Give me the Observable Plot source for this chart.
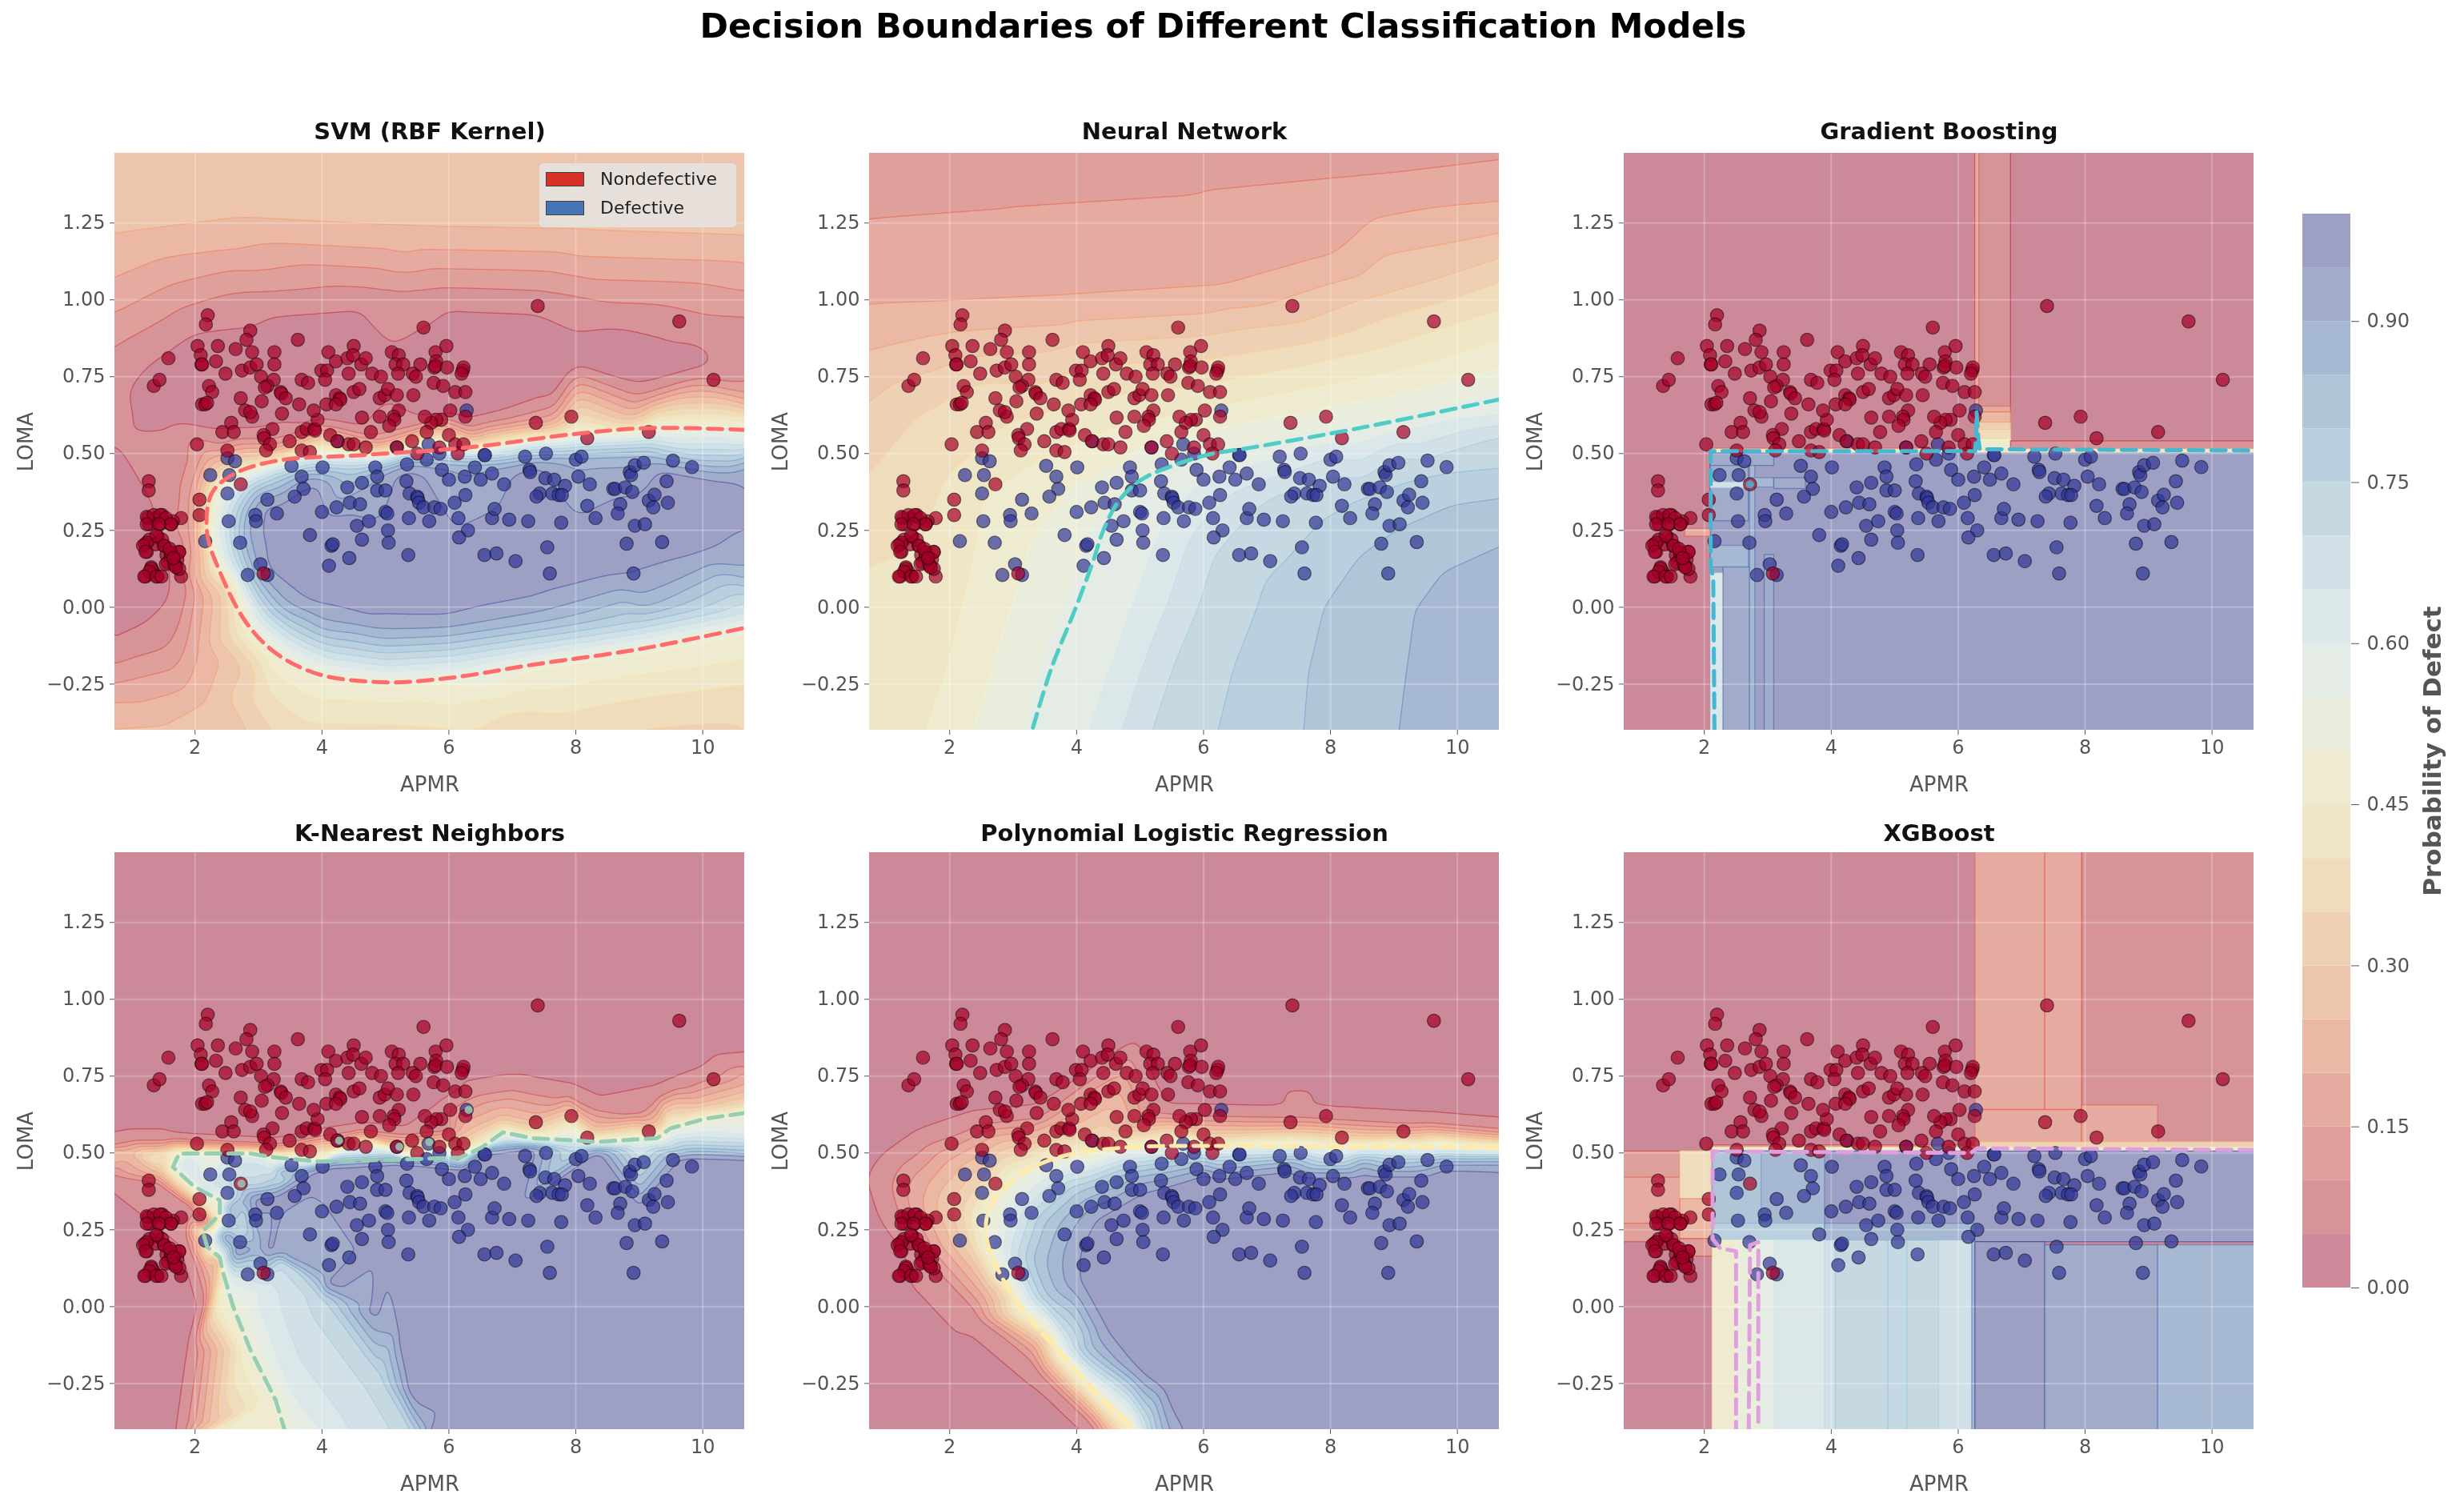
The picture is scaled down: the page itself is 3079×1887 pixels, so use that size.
<!DOCTYPE html>
<html><head><meta charset="utf-8">
<script src="https://cdn.jsdelivr.net/npm/d3@7"></script>
<script src="https://cdn.jsdelivr.net/npm/@observablehq/plot@0.6"></script>
<style>
html,body{margin:0;background:#fff}
#page{position:relative;width:3079px;height:1887px;overflow:hidden;font-family:"DejaVu Sans",sans-serif;color:#555;filter:blur(.6px)}
#page svg{position:absolute;overflow:visible;background:transparent}
#title{position:absolute;left:0;width:3057px;top:8px;text-align:center;font-weight:bold;font-size:42.8px;color:#000;line-height:48px}
#legend{position:absolute;left:674px;top:204px;width:246px;height:80px;background:rgba(229,229,229,.8);border-radius:5px;font-size:22px;color:#222;z-index:3}
#legend i{position:absolute;left:8px;width:48px;height:18px;border:1px solid #444;box-sizing:border-box}
#legend span{position:absolute;left:76px;line-height:26px}
</style></head><body>
<div id="page"><div id="title">Decision Boundaries of Different Classification Models</div>
<div id="legend"><i style="top:11px;background:#d73027"></i><span style="top:7px">Nondefective</span><i style="top:47px;background:#4575b4"></i><span style="top:43px">Defective</span></div></div>
<script>
// ---- scatter (APMR, LOMA) ----
const nondefective=[[7.40,.98],[9.63,.93],[5.60,.91],[10.17,.74],[2.20,.95],[2.17,.92],[2.87,.90],[2.81,.87],[3.62,.87],[1.58,.81],[2.04,.85],[2.36,.85],[2.09,.82],[2.10,.79],[2.11,.79],[2.33,.80],[2.64,.84],[2.90,.83],[3.25,.83],[3.25,.79],[2.48,.76],[2.74,.77],[2.87,.78],[2.97,.79],[3.04,.75],[3.24,.74],[3.14,.72],[3.10,.715],[1.35,.72],[1.44,.74],[2.22,.72],[2.27,.70],[2.11,.66],[2.16,.66],[2.19,.665],[2.72,.68],[2.79,.64],[2.90,.62],[2.87,.635],[3.05,.67],[3.35,.70],[3.36,.695],[3.43,.68],[3.37,.63],[2.57,.60],[2.43,.57],[2.61,.57],[2.03,.53],[2.51,.51],[3.22,.58],[3.08,.56],[3.09,.55],[3.18,.53],[3.12,.51],[3.49,.54],[3.68,.57],[3.76,.58],[3.88,.58],[3.89,.575],[3.93,.61],[3.87,.64],[3.64,.66],[4.07,.66],[3.68,.74],[3.78,.73],[3.99,.77],[4.08,.77],[4.05,.74],[4.10,.83],[4.22,.80],[4.40,.81],[4.50,.85],[4.49,.82],[4.62,.79],[4.69,.81],[4.42,.76],[4.79,.76],[4.93,.75],[4.50,.70],[4.59,.71],[4.22,.69],[4.28,.68],[4.29,.675],[4.22,.66],[4.91,.68],[4.99,.69],[5.04,.71],[5.18,.69],[5.44,.69],[5.10,.83],[5.21,.82],[5.16,.79],[5.28,.79],[5.20,.76],[5.55,.79],[5.43,.76],[5.48,.75],[5.79,.83],[5.96,.85],[5.80,.80],[5.77,.78],[5.79,.785],[5.97,.78],[5.76,.73],[5.91,.72],[6.10,.70],[6.26,.70],[6.22,.77],[6.23,.78],[6.20,.76],[6.02,.64],[5.88,.61],[5.80,.61],[5.72,.60],[5.62,.62],[6.26,.62],[5.21,.64],[5.13,.62],[5.14,.61],[5.06,.59],[4.91,.62],[4.63,.617],[4.77,.57],[4.13,.56],[4.24,.54],[4.42,.53],[4.50,.53],[4.69,.52],[3.68,.51],[3.81,.505],[5.18,.52],[5.42,.54],[5.50,.50],[5.65,.57],[6.00,.56],[6.10,.53],[6.23,.53],[6.14,.50],[5.85,.52],[7.37,.60],[7.93,.62],[8.18,.55],[9.15,.57],[1.27,.41],[1.27,.38],[2.72,.40],[2.07,.35],[2.07,.30],[3.08,.11],[1.26,.29],[1.38,.29],[1.48,.30],[1.78,.29],[1.65,.28],[1.45,.27],[1.28,.27],[1.62,.27],[1.41,.23],[1.28,.22],[1.21,.205],[1.24,.18],[1.38,.205],[1.51,.20],[1.62,.18],[1.75,.18],[1.55,.17],[1.72,.155],[1.57,.145],[1.68,.135],[1.31,.13],[1.35,.115],[1.22,.10],[1.41,.10],[1.78,.10],[1.75,.125],[1.62,.165],[1.48,.22],[1.24,.294],[1.35,.30],[1.45,.30],[1.54,.29],[1.62,.27],[1.24,.27],[1.43,.27],[1.39,.233],[1.24,.21],[1.18,.20],[1.22,.18],[1.52,.20],[1.62,.177],[1.75,.18],[1.54,.14],[1.68,.14],[1.70,.13],[1.31,.125],[1.28,.116],[1.20,.10],[1.39,.10],[1.47,.10],[1.60,.19],[1.66,.16]];
const defective=[[6.28,.64],[2.51,.485],[2.63,.475],[2.24,.43],[2.54,.43],[2.51,.37],[2.53,.28],[2.16,.215],[2.71,.21],[2.83,.105],[3.03,.14],[3.14,.105],[2.95,.30],[2.96,.28],[3.14,.35],[3.29,.305],[3.52,.46],[3.68,.425],[3.71,.385],[3.57,.36],[4.01,.455],[4.00,.31],[3.81,.235],[4.15,.20],[4.17,.205],[4.11,.135],[4.43,.16],[4.23,.325],[4.40,.39],[4.44,.34],[4.60,.335],[4.63,.405],[4.55,.265],[4.74,.28],[4.63,.22],[4.84,.455],[4.87,.425],[4.87,.38],[5.0,.38],[5.0,.31],[5.03,.305],[5.04,.25],[5.05,.21],[5.34,.465],[5.33,.41],[5.38,.37],[5.50,.36],[5.51,.355],[5.53,.34],[5.60,.325],[5.77,.325],[5.87,.32],[5.37,.29],[5.69,.28],[5.36,.17],[5.18,.52],[4.25,.54],[5.68,.53],[5.65,.48],[5.85,.50],[5.89,.447],[6.0,.415],[6.25,.425],[6.41,.455],[6.50,.415],[6.68,.435],[6.56,.495],[6.57,.495],[6.26,.365],[6.09,.34],[6.15,.29],[6.30,.25],[6.16,.227],[6.56,.17],[6.75,.175],[6.68,.29],[6.72,.32],[6.95,.285],[6.87,.40],[7.05,.15],[7.20,.49],[7.27,.447],[7.28,.44],[7.53,.50],[7.52,.42],[7.66,.415],[7.83,.395],[7.43,.37],[7.38,.36],[7.63,.37],[7.73,.365],[7.78,.365],[7.25,.28],[7.77,.275],[7.55,.195],[7.59,.11],[8.0,.48],[8.09,.49],[8.04,.425],[8.22,.40],[8.18,.33],[8.31,.29],[8.59,.385],[8.62,.385],[8.78,.39],[8.89,.375],[8.70,.335],[8.66,.305],[8.85,.44],[8.87,.43],[8.93,.462],[9.07,.47],[8.80,.207],[8.91,.11],[8.93,.265],[9.09,.27],[9.15,.347],[9.24,.366],[9.22,.325],[9.43,.41],[9.45,.34],[9.53,.477],[9.83,.456],[9.36,.212]];
// ---- probability isolines: [p, x,y, x,y, ...] ----
const svmField=[
[.28,0,1.8,3,1.8,6,1.8,9,1.8,12,1.8,2.5,1.55,7,1.5,10,1.5],
[.02,2.5,.75,5,.75,8,.8,1.5,.65,3.5,.65,6,.68,.5,.25,1,.15,1.1,.3],
[.03,9.9,.82,9,.83,8,.85,7,.88,6,.9,4.5,.9,3,.87,2,.8,1.2,.7,1.5,.62,4,.6,6,.62,7.5,.7,9,.76],
[.05,.97,.646,1.24,.80,1.92,.90,3.27,.96,4.62,.98,5.97,.98,7.32,.97,8.68,.92,9.69,.87,10.2,.82,9.96,.76,9.01,.716,7.66,.66,6.31,.59,4.62,.558,2.6,.555,1.04,.558,.96,.596],
[.05,.5,.54,.85,.53,1.38,.293,1.72,.116,1.68,.015,1.24,-.073,.74,-.124,.5,-.14],
[.08,10.9,.84,.5,.7],
[.10,.5,.84,.74,.855,1.58,.95,2.6,1.03,5.3,1.04,8,1.02,10.9,.95,10.9,.72,9,.68,7.66,.634,6.31,.564,4.96,.539,3.27,.526,2.46,.514,2.0,.46,1.85,.36,1.92,.2,1.95,.05,1.58,-.135,.74,-.187,.5,-.19],
[.15,.5,.95,.74,.962,1.58,1.05,2.6,1.10,5.3,1.09,8,1.08,10.9,1.03,10.9,.69,9,.65,7.66,.615,6.31,.555,4.96,.53,3.27,.518,2.39,.5,2.02,.43,1.95,.24,2.02,.05,1.85,-.14,.74,-.25,.5,-.26],
[.20,.5,1.06,.74,1.076,1.5,1.14,2.6,1.165,5.3,1.15,8,1.145,10.9,1.12,10.9,.665,9,.63,7.66,.6,6.31,.548,4.96,.523,3.27,.512,2.3,.49,2.08,.42,2.03,.24,2.15,.05,2.05,-.15,1.85,-.27,.74,-.31,.5,-.32],
[.25,.5,1.2,.74,1.21,2.6,1.26,5.3,1.23,8,1.22,10.9,1.2,10.9,.645,9,.615,7.66,.585,6.31,.54,4.96,.516,3.27,.505,2.25,.47,2.13,.40,2.1,.24,2.3,.05,2.45,-.15,2.2,-.3,1.5,-.38,.74,-.39,.5,-.4],
[.30,10.9,.625,9,.60,7.66,.575,6.31,.53,4.96,.51,3.27,.495,2.2,.44,2.14,.36,2.13,.24,2.45,.05,2.8,-.2,3.0,-.45,.5,-.7,3,-.7],
[.35,3.4,-.45,8,-.42,9,-.39,10.9,-.34,2.5,.1],
[.37,5,-.45,6.5,-.45],
[.40,10.9,.60,9,.59,7.66,.565,6.31,.525,4.96,.505,3.27,.485,2.45,.43,2.18,.36,2.15,.24,2.3,.1,2.7,-.1,3.2,-.28,3.8,-.37,5,-.37,7,-.33,9,-.29,10.9,-.24],
[.50,10.9,.577,9.15,.583,8.0,.564,6.31,.52,4.62,.495,3.27,.476,2.6,.432,2.26,.369,2.19,.242,2.39,.116,2.8,-.048,3.27,-.149,3.95,-.218,4.96,-.244,5.97,-.231,7.32,-.187,9.01,-.136,10.9,-.06],
[.62,10.9,.55,9.15,.555,8,.535,6.31,.50,4.62,.478,3.27,.455,2.75,.41,2.5,.34,2.42,.24,2.58,.12,3,-.03,3.5,-.12,4.1,-.18,5,-.205,6,-.19,7.32,-.15,9,-.10,10.9,-.03],
[.75,10.9,.525,9.15,.525,8,.51,6.31,.485,4.62,.46,3.4,.44,2.9,.39,2.68,.32,2.62,.24,2.78,.12,3.15,-.01,3.7,-.09,4.3,-.13,5,-.15,6,-.14,7.32,-.10,9,-.05,10.9,.03],
[.88,10.9,.50,9.15,.495,8,.49,6.31,.475,4.8,.445,3.6,.425,3.05,.37,2.8,.30,2.78,.22,2.95,.11,3.4,0,4,-.06,5,-.09,6,-.08,7.32,-.04,9,.01,10.9,.1],
[.95,2.9,.242,3.03,.343,3.81,.419,5.3,.463,7.32,.472,9.35,.457,10.36,.419,10.9,.356,10.9,.274,10.03,.179,8.68,.104,7.32,.034,5.97,-.029,4.76,-.035,3.81,.015,3.14,.116],
[.97,3.2,.24,3.3,.32,3.9,.39,5.3,.44,7.3,.45,9.3,.43,10.3,.39,10.4,.29,9.8,.21,8.6,.14,7.3,.07,6,.01,4.8,0,3.9,.04,3.3,.13],
[.98,5,.2,7,.25,9,.3,4,.25,6,.15,8,.2,10.3,.32,10.9,.315]];
const nnField=[
[.07,0,1.8,3,1.8],[.11,6,1.8,12,1.8],[.10,.4,1.47,1.5,1.52],
[.15,.4,1.25,.74,1.255,3,1.29,6,1.33,8.5,1.38,10.9,1.44],
[.20,.4,.965,.74,.97,2,.98,4,1.0,6.3,1.03,8,1.13,10.9,1.32],
[.25,.4,.82,.74,.83,2,.89,4,.93,6.3,.97,8,1.05,10.9,1.22],
[.30,.4,.63,.74,.66,1.9,.776,3.6,.83,6,.88,7.5,.92,9,1.02,10.9,1.15],
[.35,.4,.38,.74,.43,1.5,.62,2.5,.73,4,.78,6,.80,7.5,.85,9,.95,10.9,1.07],
[.40,10.9,.98,9,.85,7.5,.78,6,.72,4,.66,3,.6,2,.42,1.6,.2,1.4,0,1.1,-.2,.74,-.42,.4,.1],
[.45,10.9,.88,9,.76,7.5,.70,6,.64,4.5,.57,3.4,.47,2.58,.36,2.24,0,2,-.2,1.6,-.45],
[.50,10.9,.78,9,.68,7.5,.62,6,.56,4.8,.47,3.9,.38,3.3,.2,3.0,0,2.7,-.2,2.3,-.45],
[.56,10.9,.69,9.23,.615,8.18,.572,6.77,.52,6.11,.498,5.55,.463,5.02,.415,4.68,.35,4.43,.255,4.26,.15,3.99,0,3.6,-.2,3.3,-.45],
[.60,10.9,.62,8.5,.53,7,.47,6.0,.40,5.5,.3,5.2,.15,4.95,0,4.6,-.2,4.2,-.45],
[.70,10.9,.57,9,.49,8,.43,7,.355,6.5,.25,6.16,.165,5.91,0,5.5,-.2,5.1,-.45],
[.75,10.9,.45,9.5,.425,8.5,.355,7.93,.287,7.4,.165,7.0,.08,6.88,0,6.5,-.2,6.2,-.45],
[.80,10.9,.36,9.95,.333,9.1,.255,8.5,.168,7.93,0,7.7,-.2,7.6,-.45],
[.85,10.9,.22,9.78,.116,9.38,0,9.25,-.2,9.1,-.45],
[.88,12,-.7,10.9,-.5]];
const polyField=[
[.02,-1,1.8,5,1.8,12,1.8,-1,.4,-1,-.8,2,-.8,3.5,-.8,12,1.0,5,.9,2,.9],
[.05,10.9,.575,9.45,.60,7.42,.624,5.39,.633,3.36,.63,2.35,.609,1.47,.548,.99,.479,.84,.416,1.03,.29,1.53,.14,2.35,-.039,3.36,-.216,4.24,-.39,4.4,-.6],
[.20,10.9,.553,9,.57,7.42,.586,5.39,.605,3.7,.599,2.68,.555,2.0,.479,1.67,.403,1.57,.327,1.87,.2,2.55,.037,3.36,-.127,4.44,-.40,4.6,-.6],
[.35,10.9,.53,8.5,.54,6.07,.548,4.38,.548,3.36,.51,2.55,.416,2.21,.315,2.35,.2,2.89,.037,3.56,-.114,4.65,-.40,4.8,-.6],
[.50,10.9,.517,9.5,.517,8.1,.52,6.07,.523,4.71,.517,3.7,.485,3.02,.416,2.62,.315,2.58,.226,2.75,.125,3.16,-.014,3.7,-.14,4.31,-.28,4.92,-.40,5.05,-.6],
[.65,10.9,.505,9,.505,7.42,.505,6.07,.498,4.71,.478,3.7,.415,3.16,.315,2.95,.175,3.19,.06,3.83,-.116,5.05,-.4,5.2,-.6],
[.80,10.9,.485,9.7,.485,8.5,.485,7.42,.485,6.07,.479,4.85,.441,4.04,.378,3.5,.277,3.29,.15,3.5,.037,4.1,-.14,5.25,-.40,5.4,-.6],
[.95,10.9,.454,9.7,.452,8.5,.45,7.42,.447,6.07,.441,5.05,.378,4.31,.289,4.04,.176,4.04,.075,4.44,-.076,4.98,-.215,5.59,-.40,5.7,-.6],
[.98,12,-.8,12,.42,9.7,.42,8.5,.42,7.4,.42,6.2,.41,5.3,.33,4.6,.25,4.4,.1,4.9,-.1,5.4,-.25,6,-.8,8,-.8,8,.1,10,.1]];
const knnField=[
[.02,0,1.8,5,1.8,12,1.8,5,1.1,1,1,9,1.1,1,.1,1,-.3,1.3,-.1,0,.2,0,-.8,1.2,-.8,3,.7,5,.8],
[.05,10.9,.81,10.3,.80,10.03,.757,9.62,.725,9.28,.694,8.95,.637,8.34,.656,7.87,.70,7.32,.719,7.05,.731,6.65,.719,6.31,.706,5.9,.655,5.94,.58,5.3,.567,4.62,.58,4.01,.56,3.27,.53,2.6,.536,1.58,.548,.97,.548,.5,.53],
[.05,.5,.42,1.45,.39,1.92,.327,2.16,.277,1.85,.258,1.58,.245,1.85,.2,2.32,.144,2.36,.119,2.12,0,1.95,-.14,1.78,-.39,1.74,-.6],
[.25,10.9,.71,10,.66,9.3,.60,8.3,.58,7.3,.60,6.85,.62,6.3,.57,5.9,.54,5.3,.53,4,.53,3.3,.51,2.5,.52,1.6,.52,1,.5,.5,.505],
[.25,.5,.46,1.4,.44,1.9,.35,2.2,.29,1.95,.25,2.15,.2,2.38,.14,2.3,.1,2.22,-.39,2.2,-.6],
[.43,10.9,.65,10,.625,9.4,.575,9.2,.55,8.3,.545,7.3,.56,6.85,.58,6.5,.53,6.2,.50,5.3,.495,4,.49,3.3,.50,2.5,.505,1.6,.505,1.3,.48,1.7,.42,2.1,.34,2.3,.30,2.08,.25,2.2,.18,2.35,.13,2.32,0,2.27,-.4,2.25,-.6],
[.50,10.9,.63,10.03,.611,9.49,.58,9.28,.548,8.34,.536,7.32,.548,6.85,.567,6.51,.517,6.18,.485,5.3,.479,3.95,.472,3.27,.485,2.87,.498,2.46,.498,1.75,.498,1.65,.454,1.99,.39,2.39,.346,2.39,.3,2.12,.245,2.19,.195,2.39,.16,2.43,.119,2.6,0,2.87,-.14,3.27,-.304,3.41,-.40,3.5,-.6],
[.62,10.9,.55,10,.56,9.4,.53,9,.525,8.3,.525,7.3,.535,6.85,.545,6.5,.51,6.2,.47,5.3,.485,4,.465,3.4,.47,2.9,.49,2.5,.49,1.85,.49,1.8,.45,2.1,.385,2.5,.35,2.5,.28,2.3,.22,2.45,.15,2.6,.09,3.07,.06,3.13,-.025,3.54,-.25,4.08,-.40,4.2,-.6],
[.72,10.9,.53,10,.53,8,.515,7.3,.53,6.5,.505,6.2,.465,5.3,.48,4,.462,3.4,.45,3.4,.42,3.2,.42,2.95,.40,2.6,.40,2.7,.3,2.6,.25,3.4,.15,3.95,.025,4.9,-.24,5.35,-.40,5.45,-.6],
[.90,10.9,.48,9.7,.487,8.3,.505,7.3,.52,6.5,.50,6.18,.455,5.3,.47,4,.455,3.38,.44,3.3,.37,2.9,.36,2.58,.315,2.45,.23,2.62,.2,3.05,.19,3.4,.165,4.05,.09,4.7,0,5.15,-.09,5.3,-.27,5.65,-.4,5.75,-.6],
[.97,10.9,.475,9.69,.482,8.34,.50,7.32,.515,6.51,.495,6.18,.45,5.3,.465,4.01,.45,3.41,.43,3.34,.365,2.93,.35,2.66,.30,2.53,.23,2.65,.18,3.14,.18,3.41,.155,4.08,.08,4.76,-.01,5.23,-.1,5.37,-.27,5.72,-.4,5.8,-.6],
[.99,8,.1,6,-.3,10,-.3,5,.25,12,-.8,7,-.8,12,.2,7,.3,9,.3]];
// ---- tree model leaves: [x1,x2,y1,y2,p] ----
const gbLeaves=[[0,11,-1,2,.02],[2.1,11,-1,.508,.97],[6.27,6.83,.64,2,.09],[6.27,6.33,.6,2,.16],[6.33,6.83,.634,.653,.15],[6.33,6.83,.6,.634,.2],[6.33,6.83,.577,.6,.3],[6.33,6.83,.545,.577,.36],[6.33,6.83,.514,.545,.47],[6.83,11,.508,.54,.07],[2.1,6.27,.508,.516,.16],[2.1,11,.503,.513,.45],[1.7,2.1,.23,.255,.15],[2.1,2.3,-1,.11,.62],[2.3,2.72,-1,.13,.9],[2.72,2.8,-1,.5,.85],[2.95,3.1,-1,.17,.9],[2.1,2.7,.13,.2,.88],[2.1,2.7,.28,.5,.9],[2.1,2.7,.388,.406,.68],[2.7,3.1,.39,.42,.85],[3.1,3.6,.385,.42,.92],[2.1,3.1,.46,.5,.9]];
const xgbLeaves=[[0,11,-1,2,.02],[7.95,11,.53,2,.08],[6.27,7.37,.64,2,.18],[7.37,7.95,.64,2,.15],[6.27,7.95,.53,.64,.18],[7.95,9.15,.53,.655,.15],[2.13,6.27,.51,.525,.12],[6.27,11,.515,.535,.3],[2.13,11,.503,.517,.45],[0,1.62,.21,.505,.12],[0,1.62,.27,.42,.15],[1.62,2.13,.35,.505,.35],[1.62,2.13,.22,.35,.2],[1.62,2.13,.163,.22,.1],[2.13,11,.21,.505,.97],[2.13,3.9,.21,.505,.87],[2.13,2.9,.21,.505,.82],[2.13,3.9,.21,.27,.75],[3.9,6.27,.215,.27,.85],[2.13,2.5,-1,.215,.47],[2.5,2.72,-1,.215,.5],[2.72,2.87,-1,.215,.53],[2.87,3.1,-1,.215,.58],[3.1,3.9,-1,.215,.6],[3.9,4.07,-1,.215,.65],[4.07,4.9,-1,.215,.7],[4.9,5.2,-1,.215,.74],[5.2,5.7,-1,.215,.7],[5.7,6.22,-1,.215,.67],[6.22,6.27,-1,.215,.85],[6.27,7.37,-1,.21,.97],[7.37,9.15,-1,.2,.9],[9.15,11,-1,.2,.85]];
// ---- decision boundaries (p = 0.5 dashed lines) ----
const svmBoundary=[[10.66,.577],[9.15,.583],[8,.564],[6.31,.52],[4.62,.495],[3.27,.476],[2.6,.432],[2.26,.369],[2.19,.242],[2.39,.116],[2.8,-.048],[3.27,-.149],[3.95,-.218],[4.96,-.244],[5.97,-.231],[7.32,-.187],[9.01,-.136],[10.66,-.067]];
const nnBoundary=[[10.66,.676],[9.23,.615],[8.18,.572],[6.77,.52],[6.11,.498],[5.55,.463],[5.02,.415],[4.68,.35],[4.43,.255],[4.26,.15],[3.99,0],[3.6,-.2],[3.3,-.4]];
const gbBoundary=[[2.16,-.4],[2.14,.10],[2.1,.13],[2.1,.508],[6.27,.508],[6.29,.634],[6.32,.545],[6.34,.514],[10.66,.51]];
const knnBoundary=[[10.66,.63],[10.03,.611],[9.49,.58],[9.28,.548],[8.34,.536],[7.32,.548],[6.85,.567],[6.51,.517],[6.18,.485],[5.3,.479],[3.95,.472],[3.27,.485],[2.87,.498],[2.46,.498],[1.75,.498],[1.65,.454],[1.99,.39],[2.39,.346],[2.39,.3],[2.12,.245],[2.19,.195],[2.39,.16],[2.43,.119],[2.6,0],[2.87,-.14],[3.27,-.304],[3.41,-.4]];
const polyBoundary=[[10.66,.517],[8.1,.52],[6.07,.523],[4.71,.517],[3.7,.485],[3.02,.416],[2.62,.315],[2.58,.226],[2.75,.125],[3.16,-.014],[3.7,-.14],[4.31,-.28],[4.92,-.4]];
const xgbBoundary=[[10.66,.51],[6.3,.515],[6.2,.50],[2.13,.505],[2.13,.22],[2.25,.19],[2.5,.18],[2.5,-.4]];
const xgbBoundary2=[[2.7,-.4],[2.72,.2],[2.85,.21],[2.85,-.4]];
const gbIslands=[[2.72,.40]];
const knnIslands=[[6.31,.64],[4.27,.54],[5.22,.52],[5.69,.535],[2.73,.40]];
const xTicks=[2,4,6,8,10], yTicks=[-.25,0,.25,.5,.75,1,1.25], barTicks=[0,.15,.3,.45,.6,.75,.9];
const levels=d3.range(1,20).map(i=>i/20);
const rawColors=d3.quantize(d3.interpolateRdYlBu,20);
const bandColors=rawColors.map(c=>{const r=d3.rgb(c),m=v=>Math.round(.4*v+.6*229);return d3.rgb(m(r.r),m(r.g),m(r.b)).formatHex();});
const colorOpt={type:"threshold",domain:levels,range:bandColors};
const rawOf=new Map(bandColors.map((c,i)=>[c,rawColors[i]]));
function rawLines(index,scales,values,dims,ctx,next){const g=next(index,scales,values,dims,ctx);
  g.querySelectorAll("path,rect").forEach(p=>{const s=p.getAttribute("stroke");if(s&&rawOf.has(s))p.setAttribute("stroke",rawOf.get(s));});return g;}
const samples=f=>f.flatMap(([p,...c])=>d3.range(0,c.length,2).map(i=>({x:c[i],y:c[i+1],p:p+.002})));
const W=787,H=721,ML=120,MR=10,MT=60,MB=95;
const panels=[
 {t:"SVM (RBF Kernel)",l:143,tp:191,field:svmField,b:[svmBoundary],c:"#ff6b6b",curve:"catmull-rom",blur:4,td:-27},
 {t:"Neural Network",l:1086,tp:191,field:nnField,b:[nnBoundary],c:"#4ecdc4",curve:"catmull-rom",blur:4,td:-27},
 {t:"Gradient Boosting",l:2029,tp:191,leaves:gbLeaves,b:[gbBoundary],c:"#45b7d1",curve:"linear",isl:gbIslands,td:-27},
 {t:"K-Nearest Neighbors",l:143,tp:1065,field:knnField,b:[knnBoundary],c:"#96ceb4",curve:"linear",blur:1.5,isl:knnIslands,td:-24},
 {t:"Polynomial Logistic Regression",l:1086,tp:1065,field:polyField,b:[polyBoundary],c:"#ffeaa7",curve:"catmull-rom",blur:3,td:-24},
 {t:"XGBoost",l:2029,tp:1065,leaves:xgbLeaves,b:[xgbBoundary,xgbBoundary2],c:"#dda0dd",curve:"linear",td:-24}];
const page=document.getElementById("page");
for(const P of panels){
  const back=P.field?Plot.contour(samples(P.field),{x:"x",y:"y",value:"p",fill:"value",stroke:"value",strokeWidth:1.3,strokeOpacity:.5,
      thresholds:[-1,...levels],interpolate:"barycentric",blur:P.blur,pixelSize:2,x1:.4,x2:11,y1:-.6,y2:1.7,clip:true,render:rawLines})
    :Plot.rect(P.leaves,{x1:d=>d[0],x2:d=>d[1],y1:d=>d[2],y2:d=>d[3],fill:d=>d[4],stroke:d=>d[4],strokeWidth:1.3,strokeOpacity:.55,clip:true,render:rawLines});
  const svg=Plot.plot({width:W+ML+MR,height:H+MT+MB,marginLeft:ML,marginRight:MR,marginTop:MT,marginBottom:MB,
    style:{fontFamily:"DejaVu Sans",color:"#555",background:"transparent",overflow:"visible"},
    x:{domain:[.736,10.66]},y:{domain:[-.4,1.477]},color:colorOpt,
    marks:[
      back,
      Plot.gridX(xTicks,{stroke:"#fff",strokeOpacity:.25,strokeWidth:2}),
      Plot.gridY(yTicks,{stroke:"#fff",strokeOpacity:.25,strokeWidth:2}),
      Plot.dot(defective,{x:d=>d[0],y:d=>d[1],r:8.3,fill:"#313695",fillOpacity:.7,stroke:"#000",strokeOpacity:.5,strokeWidth:1.2}),
      Plot.dot(nondefective,{x:d=>d[0],y:d=>d[1],r:8.3,fill:"#a50026",fillOpacity:.7,stroke:"#000",strokeOpacity:.5,strokeWidth:1.2}),
      ...P.b.map(b=>Plot.line(b,{x:d=>d[0],y:d=>d[1],stroke:P.c,strokeWidth:5,strokeDasharray:"18,10",curve:P.curve,clip:true})),
      Plot.dot(P.isl||[],{x:d=>d[0],y:d=>d[1],r:5,fill:P.c,fillOpacity:.85}),
      Plot.axisX(xTicks,{label:null,tickSize:6,tickPadding:6,fontSize:24}),
      Plot.axisY(yTicks,{label:null,tickSize:6,tickPadding:6,fontSize:24,tickFormat:d3.format(".2f")}),
      Plot.text(["APMR"],{frameAnchor:"bottom",lineAnchor:"middle",dy:68,text:d=>d,fontSize:26,fill:"#555"}),
      Plot.text(["LOMA"],{frameAnchor:"left",textAnchor:"middle",lineAnchor:"middle",dx:-111,rotate:-90,text:d=>d,fontSize:26,fill:"#555"}),
      Plot.text([P.t],{frameAnchor:"top",lineAnchor:"middle",dy:P.td,text:d=>d,fontSize:29,fontWeight:"bold",fill:"#111"})
    ]});
  svg.style.left=(P.l-ML)+"px";svg.style.top=(P.tp-MT)+"px";
  page.appendChild(svg);
}
// colour bar
const bar=Plot.plot({width:203,height:1342+40,marginLeft:0,marginRight:143,marginTop:20,marginBottom:20,
  style:{fontFamily:"DejaVu Sans",color:"#555",background:"transparent",overflow:"visible"},
  x:{domain:[0,1],axis:null},y:{domain:[0,1]},color:colorOpt,
  marks:[
    Plot.rect(bandColors.map((c,i)=>i),{x1:0,x2:1,y1:i=>i/20,y2:i=>(i+1)/20,fill:i=>(i+.5)/20}),
    Plot.axisY(barTicks,{anchor:"right",tickSize:10,tickPadding:10,fontSize:24,tickFormat:d3.format(".2f"),label:null}),
    Plot.text(["Probability of Defect"],{frameAnchor:"right",textAnchor:"middle",lineAnchor:"middle",dy:0,dx:103,rotate:-90,text:d=>d,fontSize:31,fontWeight:"bold",fill:"#555"})
  ]});
bar.style.left="2877px";bar.style.top="247px";
page.appendChild(bar);
</script></body></html>
